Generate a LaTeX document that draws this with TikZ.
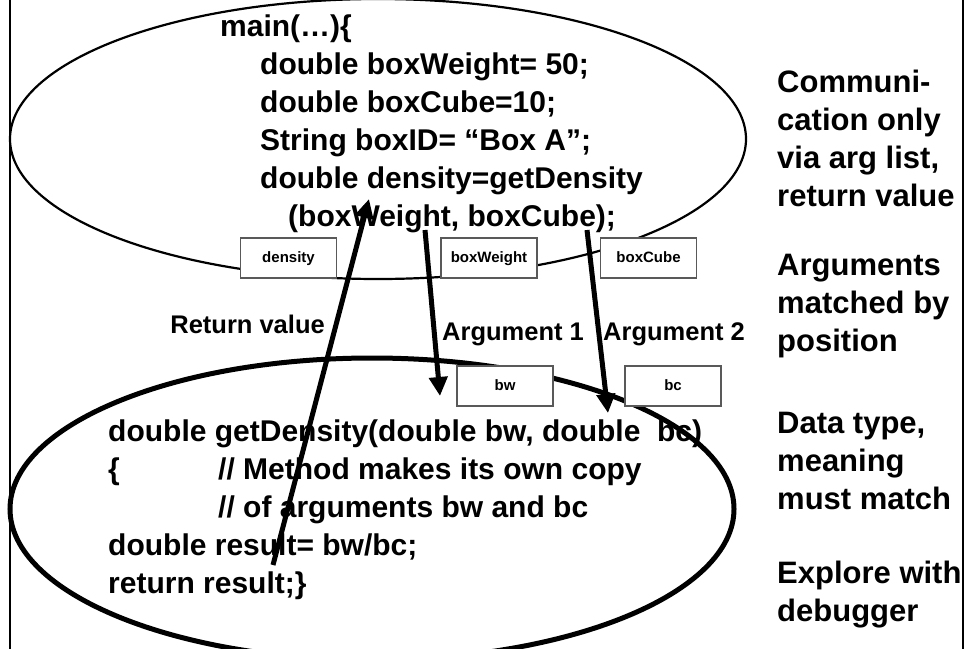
\documentclass[tikz,border=0pt]{standalone}
\usepackage{fontspec}
\setmainfont{Liberation Sans}
\usetikzlibrary{arrows.meta}
\begin{document}
\begin{tikzpicture}[x=1pt,y=-1pt,
  code/.style={anchor=base west,inner sep=0pt,font=\fontsize{30}{38}\selectfont\bfseries},
  side/.style={anchor=base west,inner sep=0pt,font=\fontsize{31}{38}\selectfont\bfseries},
  lbl/.style={inner sep=0pt,font=\fontsize{25.5}{30}\selectfont\bfseries},
  vbox/.style={draw=gray!70!black,line width=1.2pt,fill=white,minimum width=96pt,minimum height=40pt,inner sep=0pt,text height=11pt,text depth=3pt,font=\fontsize{15}{18}\selectfont\bfseries},
  pass/.style={line width=5pt,-{Triangle[length=19pt,width=18pt]}}
]
\useasboundingbox (0,0) rectangle (969,648);
\clip (0,0) rectangle (969,648);
% slide frame
\draw[line width=1.5pt] (10,-5) -- (10,655) (963,-5) -- (963,655);
% scopes
\draw[line width=2.2pt] (378,139) ellipse [x radius=368pt, y radius=140pt];
\draw[line width=5pt] (372,509) ellipse [x radius=362pt, y radius=151pt];
% caller code
\node[code] (c1) at (220,36) {main(…)\{};
\node[code] (c2) at (260,74) {double boxWeight= 50;};
\node[code] (c3) at (260,112) {double boxCube=10;};
\node[code] (c4) at (260,150) {String boxID= “Box A”;};
\node[code] (c5) at (260,188) {double density=getDensity};
\node[code] (c6) at (288,226) {(boxWeight, boxCube);};
% method code
\node[code] (m1) at (108,441) {double getDensity(double bw, double\ \ bc)};
\node[code] (m2) at (108,479) {\{};
\node[code] (m2b) at (218,479) {// Method makes its own copy};
\node[code] (m3) at (218,517) {// of arguments bw and bc};
\node[code] (m4) at (108,555) {double result= bw/bc;};
\node[code] (m5) at (108,593) {return result;\}};
% variable boxes
\node[vbox] (vdensity) at (288.5,258) {density};
\node[vbox] (vweight) at (489,258) {boxWeight};
\node[vbox] (vcube) at (648.5,258) {boxCube};
\node[vbox] (vbw) at (505,386) {bw};
\node[vbox] (vbc) at (673,386) {bc};
% labels
\node[lbl,anchor=base east] (lret) at (325,333) {Return value};
\node[lbl,anchor=base west] (larg1) at (442,340) {Argument 1};
\node[lbl,anchor=base west] (larg2) at (603,340) {Argument 2};
% side notes
\node[side] (n1a) at (777,92) {Communi-};
\node[side] (n1b) at (777,130) {cation only};
\node[side] (n1c) at (777,168) {via arg list,};
\node[side] (n1d) at (777,206) {return value};
\node[side] (n2a) at (777,275) {Arguments};
\node[side] (n2b) at (777,313) {matched by};
\node[side] (n2c) at (777,351) {position};
\node[side] (n3a) at (777,433) {Data type,};
\node[side] (n3b) at (777,471) {meaning};
\node[side] (n3c) at (777,509) {must match};
\node[side] (n4a) at (777,583) {Explore with};
\node[side] (n4b) at (777,621) {debugger};
% arrows
\coordinate (rvS) at (273,565);
\coordinate (rvE) at (369,199);
\coordinate (a1S) at (425,230);
\coordinate (a1E) at (440,396);
\coordinate (a2S) at (587,230);
\coordinate (a2E) at (608,413);
\draw[pass] (rvS) -- (rvE);
\draw[pass] (a1S) -- (a1E);
\draw[pass] (a2S) -- (a2E);
\end{tikzpicture}
\end{document}
